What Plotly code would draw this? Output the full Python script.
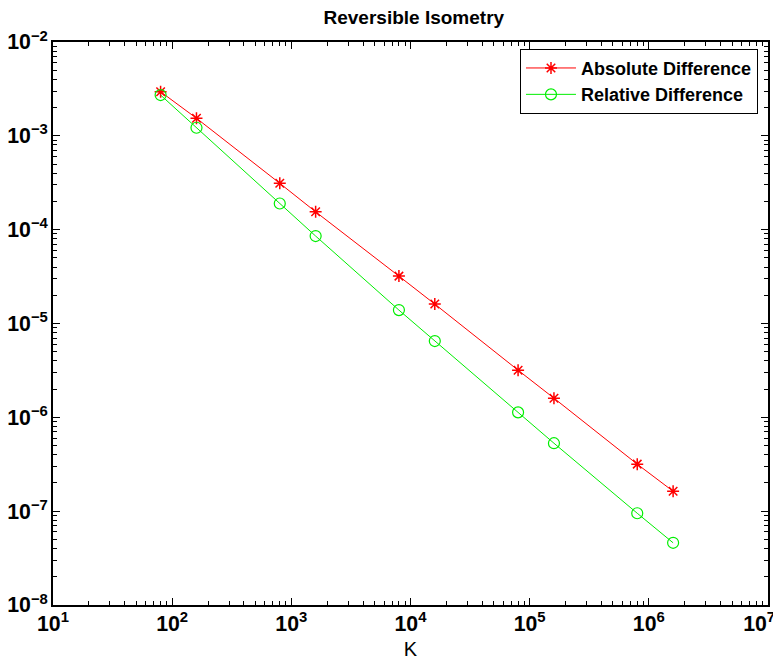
import plotly.graph_objects as go

K = [80, 160, 800, 1600, 8000, 16000, 80000, 160000, 800000, 1600000]
abs_diff = [2.95e-3, 1.54e-3, 3.12e-4, 1.55e-4, 3.2e-5, 1.61e-5, 3.18e-6, 1.6e-6, 3.17e-7, 1.63e-7]
rel_diff = [2.72e-3, 1.22e-3, 1.9e-4, 8.55e-5, 1.39e-5, 6.5e-6, 1.13e-6, 5.3e-7, 9.5e-8, 4.6e-8]

fig = go.Figure()
fig.add_trace(go.Scatter(x=K, y=abs_diff, mode="lines+markers", name="Absolute Difference",
                         line=dict(color="#ff0000", width=1),
                         marker=dict(symbol="asterisk-open", size=10, color="#ff0000",
                                     line=dict(color="#ff0000", width=1.5))))
fig.add_trace(go.Scatter(x=K, y=rel_diff, mode="lines+markers", name="Relative Difference",
                         line=dict(color="#00ee00", width=1),
                         marker=dict(symbol="circle-open", size=11, color="#00ee00",
                                     line=dict(color="#00ee00", width=1.2))))

font = "Liberation Sans, Arial, sans-serif"
axis_common = dict(type="log", showgrid=False, zeroline=False, showline=True,
                   linecolor="black", linewidth=1.5, mirror="ticks", ticks="inside",
                   ticklen=7, tickcolor="black", tickwidth=1, automargin=False,
                   dtick=1, exponentformat="power", ticklabeloverflow="allow",
                   minor=dict(ticks="inside", ticklen=4, tickcolor="black", showgrid=False, dtick="D1"),
                   tickfont=dict(family=font, size=17, color="black", weight="bold"))

fig.update_xaxes(range=[1, 7.0005],
                 labelalias={"10": "10<sup>1</sup>",
                             "10<sup>7</sup>": "10<sup>7</sup>\u00a0\u00a0\u00a0"},
                 title=dict(text="K", font=dict(family=font, size=20, color="black"), standoff=10),
                 **axis_common)
fig.update_yaxes(range=[-8, -2], **axis_common)

fig.update_layout(
    width=773, height=652,
    margin=dict(l=45, r=13, t=34, b=55),
    paper_bgcolor="white", plot_bgcolor="white",
    title=dict(text="<b>Reversible Isometry</b>", x=0.525, xanchor="center", y=0.985, yanchor="middle",
               font=dict(family=font, size=19, color="black")),
    legend=dict(x=0.986, y=0.988, xanchor="right", yanchor="top",
                bordercolor="black", borderwidth=1, bgcolor="white",
                font=dict(family=font, size=18, color="black", weight="bold"),
                tracegroupgap=0, itemwidth=50),
    showlegend=True,
)

fig.write_html("out.html")
